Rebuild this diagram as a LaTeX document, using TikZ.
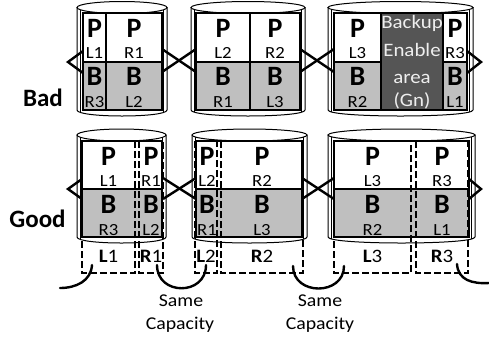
\documentclass[tikz,border=0pt]{standalone}
\usepackage{fontspec}
\setmainfont{Carlito}
\newfontfamily\stretchf{Carlito}[FakeStretch=1.1]
\definecolor{cellgray}{RGB}{191,191,191}
\definecolor{darkarea}{RGB}{85,85,85}
\definecolor{lighttext}{RGB}{238,238,238}
\tikzset{
  wall/.style={draw=black, line width=1pt, fill=white},
  innerwall/.style={draw=black, line width=0.9pt},
  boxline/.style={draw=black, line width=1.8pt},
  divline/.style={draw=black, line width=1.4pt},
  conn/.style={draw=black, line width=2.4pt, line join=miter},
  arcline/.style={draw=black, line width=2.4pt, line cap=round},
  dbox/.style={draw=black, line width=2.8pt, dash pattern=on 7pt off 3pt},
  bigl/.style={font=\fontsize{28}{28}\selectfont\bfseries, inner sep=0pt, anchor=base},
  subl/.style={font=\stretchf\fontsize{17}{17}\selectfont, inner sep=0pt, anchor=base},
  rowl/.style={font=\fontsize{25}{25}\selectfont\bfseries, inner sep=0pt, anchor=base},
  darkl/.style={font=\stretchf\fontsize{19}{19}\selectfont, text=lighttext, inner sep=0pt, anchor=base},
  boxl/.style={font=\stretchf\fontsize{19}{19}\selectfont, inner sep=0pt, anchor=base},
  capl/.style={font=\stretchf\fontsize{18}{18}\selectfont, inner sep=0pt, anchor=base},
}
% cylinder: x1 x2 ytop ybot
\newcommand\drawcyl[4]{%
  \path[wall] (#1,#3) -- (#1,#4) .. controls (#1,#4+8) and (#2,#4+8) .. (#2,#4) -- (#2,#3) -- cycle;
  \path[wall] ({(#1+#2)/2},#3) ellipse [x radius={(#2-#1)/2}, y radius=6];
  \draw[innerwall] ({#1+3.5},{#3+2.3}) -- ({#1+3.5},{#4+2.3});
  \draw[innerwall] ({#2-3.5},{#3+2.3}) -- ({#2-3.5},{#4+2.3});
}
% column texts: prefix x ytop sub1 sub2
\newcommand\coltext[5]{%
  \node[bigl] (#1p) at (#2,#3+24) {P};
  \node[subl] (#1s) at (#2,#3+45) {#4};
  \node[bigl] (#1b) at (#2,#3+72.5) {B};
  \node[subl] (#1t) at (#2,#3+94) {#5};
}
\begin{document}
\begin{tikzpicture}[x=1pt,y=-1pt]
\useasboundingbox (0,0) rectangle (489,341);

% ---------------- Bad row ----------------
\node[rowl] (bad) at (43,106) {Bad};
\drawcyl{77}{167}{7.5}{110}
\drawcyl{191}{305}{7.5}{110}
\drawcyl{328}{473}{7.5}{110}

% cylinder A
\fill[white] (83,13) rectangle (162,62);
\fill[cellgray] (83,62) rectangle (162,110);
\draw[divline] (83,62) -- (162,62) (106,13) -- (106,110);
\draw[boxline] (83,13) rectangle (162,110);
% cylinder B
\fill[white] (196,13) rectangle (300,62);
\fill[cellgray] (196,62) rectangle (300,110);
\draw[divline] (196,62) -- (300,62) (250,13) -- (250,110);
\draw[boxline] (196,13) rectangle (300,110);
% cylinder C
\fill[white] (334,13) rectangle (467,62);
\fill[cellgray] (334,62) rectangle (467,110);
\draw[divline] (334,62) -- (467,62);
\draw[boxline] (334,13) rectangle (467,110);
\filldraw[fill=darkarea, draw=black, line width=2.4pt] (381,13) rectangle (443,110);

\coltext{a1}{94.5}{13}{L1}{R3}
\coltext{a2}{134}{13}{R1}{L2}
\coltext{b1}{223}{13}{L2}{R1}
\coltext{b2}{275}{13}{R2}{L3}
\coltext{c1}{357.5}{13}{L3}{R2}
\coltext{c2}{455}{13}{R3}{L1}
\node[darkl] (bk1) at (412,28) {Backup};
\node[darkl] (bk2) at (412,56.5) {Enable};
\node[darkl] (bk3) at (412,83) {area};
\node[darkl] (bk4) at (412,106) {(Gn)};

% connectors top
\coordinate (tA0u) at (83,51); \coordinate (tA0t) at (68,62); \coordinate (tA0d) at (83,73);
\coordinate (tAu) at (162,49); \coordinate (tAd) at (162,72);
\coordinate (tBlu) at (196,49); \coordinate (tBld) at (196,72);
\coordinate (tBu) at (300,49); \coordinate (tBd) at (300,72);
\coordinate (tClu) at (334,49); \coordinate (tCld) at (334,72);
\coordinate (tCu) at (467,51); \coordinate (tCt) at (481,62); \coordinate (tCd) at (467,73);
\draw[conn] (tA0u) -- (tA0t) -- (tA0d);
\draw[conn] (tAu) -- (tBld);
\draw[conn] (tAd) -- (tBlu);
\draw[conn] (tBu) -- (tCld);
\draw[conn] (tBd) -- (tClu);
\draw[conn] (tCu) -- (tCt) -- (tCd);

% ---------------- Good row ----------------
\node[rowl] (good) at (37.5,227) {Good};
\drawcyl{77}{166}{135}{237}
\drawcyl{192}{307}{135}{237}
\drawcyl{328}{475}{135}{237}

\fill[white] (82,141) rectangle (162,189);
\fill[cellgray] (82,189) rectangle (162,237);
\draw[divline] (82,189) -- (162,189);
\draw[boxline] (82,141) rectangle (162,237);
\fill[white] (196,141) rectangle (302,189);
\fill[cellgray] (196,189) rectangle (302,237);
\draw[divline] (196,189) -- (302,189);
\draw[boxline] (196,141) rectangle (302,237);
\fill[white] (334,141) rectangle (469,189);
\fill[cellgray] (334,189) rectangle (469,237);
\draw[divline] (334,189) -- (469,189);
\draw[boxline] (334,141) rectangle (469,237);

\coltext{d1}{108.5}{141}{L1}{R3}
\coltext{d2}{151}{141}{R1}{L2}
\coltext{e1}{207}{141}{L2}{R1}
\coltext{e2}{262}{141}{R2}{L3}
\coltext{f1}{372.5}{141}{L3}{R2}
\coltext{f2}{442}{141}{R3}{L1}

% dashed capacity boxes
\draw[dbox] (82,141) rectangle (135,273);
\draw[dbox] (139,141) rectangle (163,273);
\draw[dbox] (195,141) rectangle (217,273);
\draw[dbox] (221,141) rectangle (303,273);
\draw[dbox] (334,141) rectangle (411,273);
\draw[dbox] (416,141) rectangle (468,273);

\node[boxl] (gL1) at (108.5,262) {\textbf{L}1};
\node[boxl] (gR1) at (151,262) {\textbf{R}1};
\node[boxl] (gL2) at (206,262) {\textbf{L}2};
\node[boxl] (gR2) at (262,262) {\textbf{R}2};
\node[boxl] (gL3) at (372.5,262) {\textbf{L}3};
\node[boxl] (gR3) at (442,262) {\textbf{R}3};

% connectors bottom
\coordinate (bA0u) at (82,179); \coordinate (bA0t) at (68,189); \coordinate (bA0d) at (82,199);
\coordinate (bAu) at (163,178); \coordinate (bAd) at (163,199);
\coordinate (bBlu) at (196,178); \coordinate (bBld) at (196,199);
\coordinate (bBu) at (302,178); \coordinate (bBd) at (302,199);
\coordinate (bClu) at (334,178); \coordinate (bCld) at (334,199);
\coordinate (bCu) at (469,179); \coordinate (bCt) at (481,189); \coordinate (bCd) at (469,199);
\draw[conn] (bA0u) -- (bA0t) -- (bA0d);
\draw[conn] (bAu) -- (bBld);
\draw[conn] (bAd) -- (bBlu);
\draw[conn] (bBu) -- (bCld);
\draw[conn] (bBd) -- (bClu);
\draw[conn] (bCu) -- (bCt) -- (bCd);

% same capacity arcs
\coordinate (s0a) at (92,265); \coordinate (s0b) at (60,288);
\coordinate (s1a) at (157,265); \coordinate (s1b) at (206,265);
\coordinate (s2a) at (293,266); \coordinate (s2b) at (344,266);
\coordinate (s3a) at (457,264); \coordinate (s3b) at (489,283);
\draw[arcline] (s0a) .. controls (91,281) and (76,288) .. (s0b);
\draw[arcline] (s1a) .. controls (157,296) and (206,296) .. (s1b);
\draw[arcline] (s2a) .. controls (293,296) and (344,296) .. (s2b);
\draw[arcline] (s3a) .. controls (458,280) and (472,284) .. (s3b);

\node[capl] (same1) at (181,306) {Same};
\node[capl] (cap1) at (180,329) {Capacity};
\node[capl] (same2) at (320,306) {Same};
\node[capl] (cap2) at (320,329) {Capacity};
\end{tikzpicture}
\end{document}
